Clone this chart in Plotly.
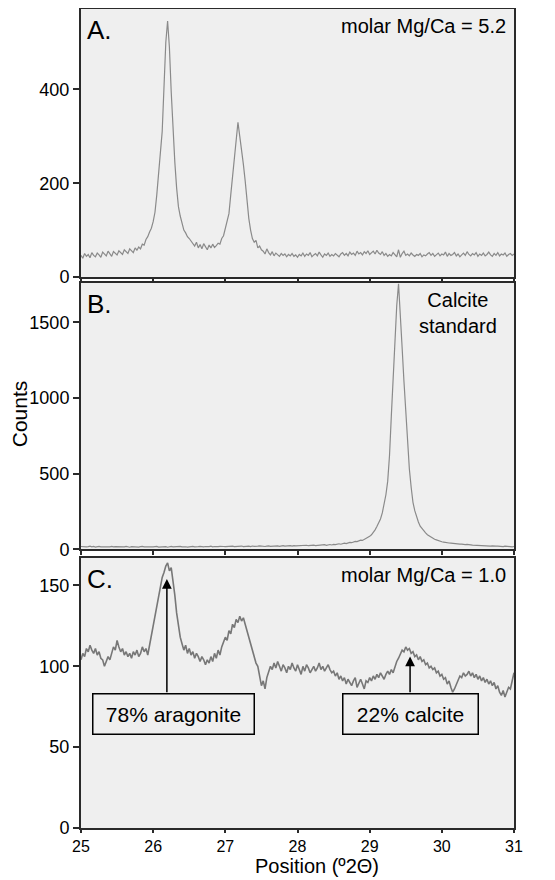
import plotly.graph_objects as go

# ---- data -------------------------------------------------------------
two_theta = [round(25 + 0.025 * i, 3) for i in range(241)]  # scan positions (°2θ)

counts_A = [
    46, 40, 50, 44, 48, 41, 52, 46, 43, 51, 47, 42, 53, 48, 45, 55, 49, 44, 54, 50,
    47, 56, 51, 48, 58, 53, 50, 60, 55, 52, 62, 57,
    64, 60, 70, 68, 80, 86, 96, 104, 118, 138, 175, 215, 262, 310, 405, 500, 546, 490,
    395, 315, 245, 190, 150, 130, 112, 100, 94, 86, 82, 76, 72,
    66, 74, 62, 69, 60, 71, 64, 58, 68, 62, 70, 63, 67,
    72, 70, 82, 88, 102, 115, 135, 175, 215, 250, 295, 330, 300, 275, 240, 205, 160, 125,
    100, 82, 74, 78, 62, 66, 58,
    55, 49, 60, 52, 47, 54, 45, 51, 48, 44, 50, 46, 49, 43, 48, 45, 50, 44, 47, 42,
    48, 45, 51, 44, 49, 46, 52, 43, 47, 50, 45, 53, 47, 42, 49, 46, 51, 44, 48, 45,
    50, 47, 43, 49, 52, 46, 50, 45, 53, 48, 51, 46, 55, 49, 52, 47, 54, 50, 56, 48,
    52, 55, 49, 57, 51, 48, 54, 46, 50, 44, 48, 45, 52, 47, 43, 58, 42, 50, 55, 46,
    49, 45, 51, 47, 44, 48, 46, 50, 43, 47, 45, 49, 52, 46, 50, 44, 48, 51, 45, 49,
    47, 53, 44, 50, 46, 48, 52, 45, 49, 43, 47, 51, 46, 54, 48, 45, 50, 47, 52, 44,
    49, 46, 51, 45, 48, 53, 47, 44, 50, 46, 52, 45, 49, 47, 51, 44, 48, 50, 46, 49,
]

counts_B = [
    18, 16, 19, 15, 17, 20, 16, 18, 14, 17, 19, 16, 15, 18, 17, 14, 16, 19, 15, 17,
    16, 18, 14, 17, 15, 19, 16, 13, 17, 15, 18, 16, 14, 17, 19, 15, 16, 18, 14, 16,
    15, 17, 19, 14, 16, 18, 15, 17, 13, 16, 18, 15, 17, 14, 16, 19, 15, 17, 16, 14,
    17, 15, 18, 16, 14, 17, 19, 15, 16, 18, 15, 17, 20, 16, 18, 15, 17, 19, 16, 18,
    17, 19, 16, 18, 20, 17, 19, 16, 18, 21, 17, 19, 18, 20, 17, 21, 19, 18, 20, 22,
    19, 21, 18, 20, 22, 19, 21, 23, 20, 22, 19, 21, 24, 20, 22, 21, 23, 20, 24, 22,
    23, 21, 25, 22, 24, 26, 23, 25, 22, 27, 24, 26, 28, 25, 27, 30, 26, 29, 31, 28,
    32, 30, 34, 36, 33, 38, 40, 37, 42, 45, 43, 48, 52, 50, 55, 60, 58, 64, 70, 76,
    85, 95, 110, 128, 150, 172, 200, 240, 290, 360, 450, 620, 880, 1130, 1370, 1610,
    1755, 1570, 1330, 1110, 920, 710, 530, 410, 310, 255, 210, 180, 152, 135, 122, 108,
    96, 88, 80, 72, 66, 62, 56, 52, 49,
    47, 44, 46, 41, 40, 38, 39, 35, 36, 33, 34, 31, 30, 32, 28, 29, 27, 26, 28, 24,
    25, 23, 24, 22, 21, 23, 20, 22, 19, 21, 20, 18, 19, 17, 20, 18, 17, 19, 16, 18,
]

counts_C = [
    104, 108, 106, 111, 109, 113, 110, 108, 111, 107, 109, 105, 104, 100, 103, 106, 104, 108, 112, 110,
    116, 112, 109, 111, 107, 109, 106, 108, 105, 109, 107, 110, 106, 108, 112, 109, 111, 107, 113, 117,
    124, 130, 137, 143, 149, 155, 158, 162, 164, 159, 161, 153, 144, 133, 126, 118, 114, 110, 113, 108,
    111, 107, 109, 105, 108, 106, 103, 106, 104, 101, 104, 102, 106, 103, 108, 105, 110, 107, 112, 115,
    118, 116, 122, 120, 126, 124, 129, 127, 131, 128, 130, 126, 122, 118, 114, 110, 106, 102, 100, 95,
    88, 91, 86, 93, 97, 100, 98, 102, 99, 103, 100, 97, 101, 99, 96, 100, 98, 102, 99, 97,
    101, 98, 95, 100, 97, 101, 99, 96, 98, 100, 97, 99, 102, 98, 100, 97, 99, 101, 98, 96,
    97, 94, 96, 92, 94, 91, 93, 89, 92, 90, 88, 91, 93, 87, 90, 92, 89, 86, 91, 90,
    93, 91, 94, 92, 95, 93, 96, 94, 92, 95, 97, 95, 98, 96, 100, 103, 105, 108, 110, 109,
    112, 110, 111, 108, 109, 106, 107, 104, 106, 103, 104, 101, 102, 99, 100, 98, 99, 96, 97, 94,
    95, 92, 93, 89, 91, 87, 84, 86, 89, 92, 94, 93, 96, 94, 95, 97, 94, 96, 93, 95, 92,
    94, 91, 93, 90, 92, 89, 91, 88, 90, 86, 88, 84, 82, 85, 81, 84, 87, 86, 91, 96,
]

x_ticks = [25, 26, 27, 28, 29, 30, 31]
y_ticks_A = [0, 200, 400]
y_ticks_B = [0, 500, 1000, 1500]
y_ticks_C = [0, 50, 100, 150]

panel_labels = ["A.", "B.", "C."]
panel_notes = ["molar Mg/Ca = 5.2", "Calcite<br>standard", "molar Mg/Ca = 1.0"]
arrow_labels = ["78% aragonite", "22% calcite"]
arrow_x = [26.19, 29.56]        # peak positions pointed at
arrow_tip = [154, 106]          # counts at arrow tips
arrow_base = [83, 83]           # counts at box tops
box_center_x = [26.285, 29.56]
box_center_y = 70.3

# ---- figure -----------------------------------------------------------
FONT = "Liberation Sans, Arial, Helvetica, sans-serif"
FRAME = "#2a2a2a"
BG = "#efefef"

fig = go.Figure()
fig.add_trace(go.Scatter(x=two_theta, y=counts_A, mode="lines", xaxis="x", yaxis="y",
                         line=dict(color="#8a8a8a", width=1.2), showlegend=False))
fig.add_trace(go.Scatter(x=two_theta, y=counts_B, mode="lines", xaxis="x2", yaxis="y2",
                         line=dict(color="#8a8a8a", width=1.2), showlegend=False))
fig.add_trace(go.Scatter(x=two_theta, y=counts_C, mode="lines", xaxis="x3", yaxis="y3",
                         line=dict(color="#777777", width=1.6), showlegend=False))

def xax(anchor, labels):
    return dict(domain=[0, 1], range=[25, 31], anchor=anchor, tickvals=x_ticks,
                showticklabels=labels, ticks="outside", ticklen=3 if labels else 4,
                tickwidth=1.5, tickcolor=FRAME, showline=True, mirror=True,
                linecolor=FRAME, linewidth=2, showgrid=False, zeroline=False,
                tickfont=dict(size=16, color="black", family=FONT))

def yax(anchor, dom, rng, tv):
    return dict(domain=dom, range=rng, anchor=anchor, tickvals=tv, ticks="outside",
                ticklen=6, tickwidth=1.5, tickcolor=FRAME, showline=True, mirror=True,
                linecolor=FRAME, linewidth=2, showgrid=False, zeroline=False,
                tickfont=dict(size=18, color="black", family=FONT))

annotations = []
for i, (lab, note) in enumerate(zip(panel_labels, panel_notes)):
    ax_id = "" if i == 0 else str(i + 1)
    annotations.append(dict(text=lab, xref=f"x{ax_id} domain", yref=f"y{ax_id} domain",
                            x=0.01, y=0.985, xanchor="left", yanchor="top", showarrow=False,
                            font=dict(size=26, color="black", family=FONT)))
    if i == 1:
        annotations.append(dict(text=note, xref="x2 domain", yref="y2 domain",
                                x=0.87, y=0.985, xanchor="center", yanchor="top",
                                showarrow=False, align="center",
                                font=dict(size=20, color="black", family=FONT)))
    else:
        annotations.append(dict(text=note, xref=f"x{ax_id} domain", yref=f"y{ax_id} domain",
                                x=0.985, y=0.985, xanchor="right", yanchor="top",
                                showarrow=False,
                                font=dict(size=20, color="black", family=FONT)))

for ax_, tip, base in zip(arrow_x, arrow_tip, arrow_base):
    annotations.append(dict(text="", x=ax_, y=tip, ax=ax_, ay=base, xref="x3", yref="y3",
                            axref="x3", ayref="y3", showarrow=True, arrowhead=2,
                            arrowsize=1.3, arrowwidth=1.5, arrowcolor="black"))

box_w = [158, 132]
for lab, cx, w in zip(arrow_labels, box_center_x, box_w):
    annotations.append(dict(text=lab, x=cx, y=box_center_y, xref="x3", yref="y3",
                            showarrow=False, width=w, height=37, borderpad=1,
                            bordercolor="black", borderwidth=1.5, bgcolor=BG,
                            font=dict(size=21, color="black", family=FONT)))

annotations.append(dict(text="Counts", xref="paper", yref="paper", x=-0.14, y=0.505,
                        textangle=-90, showarrow=False, xanchor="center", yanchor="middle",
                        font=dict(size=21, color="black", family=FONT)))
annotations.append(dict(text="Position (º2Θ)", xref="paper", yref="paper", x=0.544, y=-0.0468,
                        showarrow=False, xanchor="center", yanchor="middle",
                        font=dict(size=20, color="black", family=FONT)))

# page body adds an 8px offset, so the figure is 8px smaller than the window
fig.update_layout(
    width=547, height=872,
    margin=dict(l=73, r=41, t=0, b=52),
    paper_bgcolor="white", plot_bgcolor=BG,
    font=dict(family=FONT, color="black"),
    xaxis=xax("y", False), xaxis2=xax("y2", False), xaxis3=xax("y3", True),
    yaxis=yax("x", [0.672, 0.999], [0, 572], y_ticks_A),
    yaxis2=yax("x2", [0.34, 0.6646], [0, 1760], y_ticks_B),
    yaxis3=yax("x3", [0.0, 0.3293], [0, 167], y_ticks_C),
    annotations=annotations,
)

fig.write_html("out.html")
